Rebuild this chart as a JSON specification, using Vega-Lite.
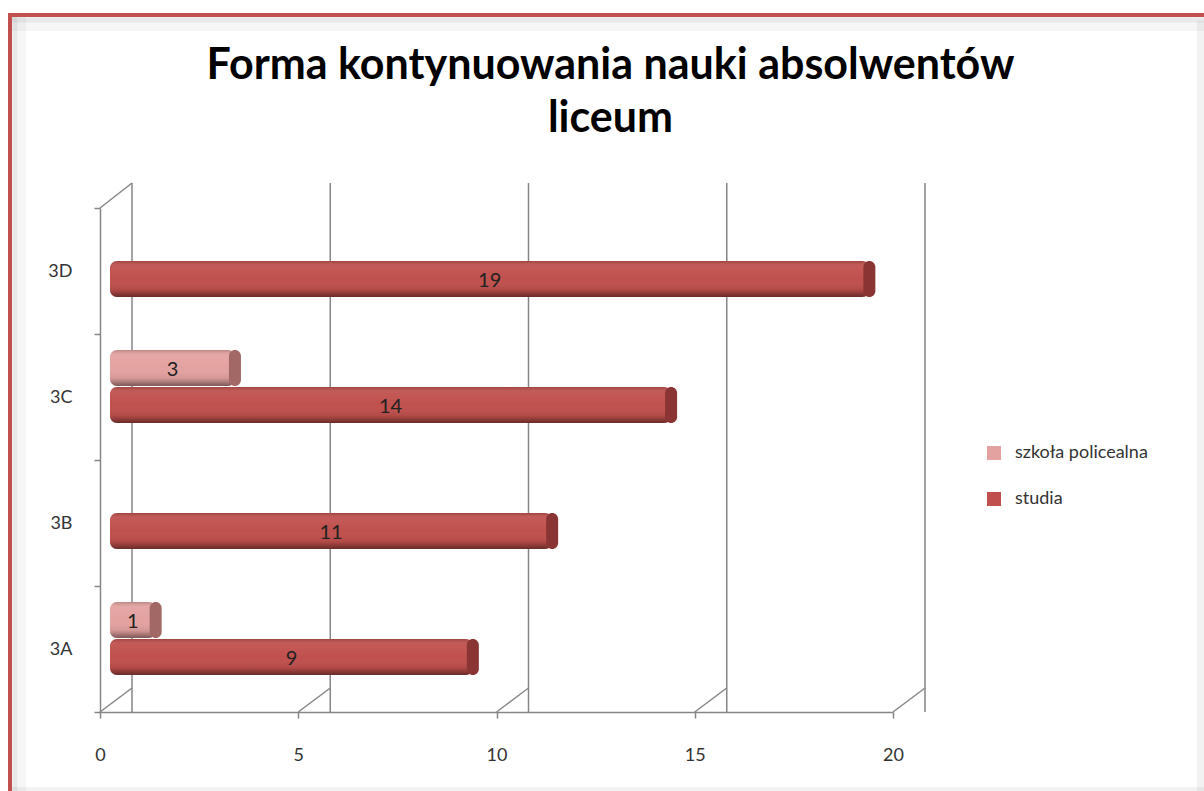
{
  "$schema": "https://vega.github.io/schema/vega-lite/v6.json",
  "width": 793,
  "height": 504,
  "autosize": "none",
  "padding": {"left": 100, "top": 208, "right": 311, "bottom": 79},
  "background": "white",
  "title": {
    "text": ["Forma kontynuowania nauki absolwentów", "liceum"],
    "font": "Lato",
    "fontSize": 43,
    "fontWeight": "bold",
    "color": "#000000",
    "lineHeight": 53,
    "anchor": "middle",
    "dx": 114,
    "offset": -133
  },
  "config": {
    "view": {"stroke": null},
    "font": "Lato",
    "axis": {
      "domainColor": "#868686",
      "domainWidth": 1.5,
      "tickColor": "#868686",
      "tickWidth": 1.5,
      "tickSize": 6,
      "labelFont": "Lato",
      "labelFontSize": 18,
      "labelColor": "#333333",
      "labelFlush": false,
      "grid": false,
      "title": null
    }
  },
  "data": {
    "values": [
      {"klasa": "3A", "seria": "szkoła policealna", "wartosc": 1},
      {"klasa": "3A", "seria": "studia", "wartosc": 9},
      {"klasa": "3B", "seria": "studia", "wartosc": 11},
      {"klasa": "3C", "seria": "szkoła policealna", "wartosc": 3},
      {"klasa": "3C", "seria": "studia", "wartosc": 14},
      {"klasa": "3D", "seria": "studia", "wartosc": 19}
    ]
  },
  "layer": [
    {
      "data": {"values": [{}]},
      "mark": {"type": "rule", "color": "#000000", "opacity": 0.035, "strokeWidth": 14, "xOffset": -81, "yOffset": -256, "y2Offset": 150},
      "encoding": {"x": {"datum": 0, "type": "quantitative"}, "y": {"datum": "3D", "type": "nominal"}, "y2": {"datum": "3A"}}
    },
    {
      "data": {"values": [{}]},
      "mark": {"type": "rule", "color": "#000000", "opacity": 0.05, "strokeWidth": 5, "xOffset": -85, "yOffset": -256, "y2Offset": 150},
      "encoding": {"x": {"datum": 0, "type": "quantitative"}, "y": {"datum": "3D", "type": "nominal"}, "y2": {"datum": "3A"}}
    },
    {
      "data": {"values": [{}]},
      "mark": {"type": "rule", "color": "#000000", "opacity": 0.035, "strokeWidth": 14, "xOffset": -88, "x2Offset": 400, "yOffset": -247},
      "encoding": {"x": {"datum": 0, "type": "quantitative"}, "x2": {"datum": 20}, "y": {"datum": "3D", "type": "nominal"}}
    },
    {
      "data": {"values": [{}]},
      "mark": {"type": "rule", "color": "#000000", "opacity": 0.05, "strokeWidth": 5, "xOffset": -88, "x2Offset": 400, "yOffset": -251},
      "encoding": {"x": {"datum": 0, "type": "quantitative"}, "x2": {"datum": 20}, "y": {"datum": "3D", "type": "nominal"}}
    },
    {
      "data": {"values": [{}]},
      "mark": {"type": "rule", "color": "#000000", "opacity": 0.05, "strokeWidth": 8, "xOffset": 308, "yOffset": -250, "y2Offset": 150},
      "encoding": {"x": {"datum": 20, "type": "quantitative"}, "y": {"datum": "3D", "type": "nominal"}, "y2": {"datum": "3A"}}
    },
    {
      "data": {"values": [{}]},
      "mark": {"type": "rule", "color": "#000000", "opacity": 0.05, "strokeWidth": 8, "xOffset": -88, "x2Offset": 400, "yOffset": 142},
      "encoding": {"x": {"datum": 0, "type": "quantitative"}, "x2": {"datum": 20}, "y": {"datum": "3A", "type": "nominal"}}
    },
    {
      "data": {"values": [{}]},
      "mark": {"type": "rule", "color": "#c0504d", "strokeWidth": 4, "xOffset": -90, "yOffset": -258, "y2Offset": 150},
      "encoding": {"x": {"datum": 0, "type": "quantitative"}, "y": {"datum": "3D", "type": "nominal"}, "y2": {"datum": "3A"}}
    },
    {
      "data": {"values": [{}]},
      "mark": {"type": "rule", "color": "#c0504d", "strokeWidth": 4, "xOffset": -92, "x2Offset": 400, "yOffset": -256},
      "encoding": {"x": {"datum": 0, "type": "quantitative"}, "x2": {"datum": 20}, "y": {"datum": "3D", "type": "nominal"}}
    },
    {
      "data": {"values": [{"v": 0}, {"v": 5}, {"v": 10}, {"v": 15}, {"v": 20}]},
      "mark": {"type": "rule", "color": "#868686", "strokeWidth": 1.5, "xOffset": 32, "yOffset": -25, "y2Offset": -24},
      "encoding": {"x": {"field": "v", "type": "quantitative"}}
    },
    {
      "data": {"values": [{"v": 0}, {"v": 5}, {"v": 10}, {"v": 15}, {"v": 20}]},
      "mark": {"type": "rule", "color": "#868686", "strokeWidth": 1.5, "x2Offset": 32, "yOffset": 63, "y2Offset": 39},
      "encoding": {
        "x": {"field": "v", "type": "quantitative"},
        "x2": {"field": "v"},
        "y": {"datum": "3A", "type": "nominal"},
        "y2": {"datum": "3A"}
      }
    },
    {
      "data": {"values": [{}]},
      "mark": {"type": "rule", "color": "#868686", "strokeWidth": 1.5, "x2Offset": 32, "yOffset": -63, "y2Offset": -88},
      "encoding": {
        "x": {"datum": 0, "type": "quantitative"},
        "x2": {"datum": 0},
        "y": {"datum": "3D", "type": "nominal"},
        "y2": {"datum": "3D"}
      }
    },
    {
      "mark": {"type": "bar", "orient": "horizontal", "cornerRadius": 7, "xOffset": 16, "x2Offset": 10},
      "encoding": {
        "y": {
          "field": "klasa", "type": "nominal", "sort": ["3D", "3C", "3B", "3A"],
          "scale": {"paddingInner": 0, "paddingOuter": 0},
          "axis": {"tickBand": "extent", "labelPadding": 22}
        },
        "yOffset": {
          "field": "seria", "type": "nominal", "sort": ["szkoła policealna", "studia"],
          "scale": {"paddingInner": 0.027, "paddingOuter": 0.716, "align": 0.3}
        },
        "x": {
          "field": "wartosc", "type": "quantitative",
          "scale": {"domain": [0, 20], "nice": false},
          "axis": {"values": [0, 5, 10, 15, 20], "labelPadding": 28}
        },
        "x2": {"datum": 0},
        "color": {
          "field": "seria", "type": "nominal", "sort": ["szkoła policealna", "studia"],
          "scale": {"range": ["#e3a2a0", "#c0504d"]},
          "legend": {
            "orient": "none", "legendX": 885, "legendY": 236, "title": null,
            "symbolType": "square", "symbolSize": 196, "symbolStrokeWidth": 0,
            "labelFont": "Lato", "labelFontSize": 18, "labelColor": "#333333",
            "rowPadding": 28, "labelOffset": 12
          }
        }
      }
    },
    {
      "mark": {
        "type": "bar", "orient": "horizontal", "cornerRadius": 7, "xOffset": 16, "x2Offset": 10,
        "fill": {
          "gradient": "linear", "x1": 0, "y1": 0, "x2": 0, "y2": 1,
          "stops": [
            {"offset": 0, "color": "rgba(0,0,0,0.18)"},
            {"offset": 0.15, "color": "rgba(255,255,255,0.06)"},
            {"offset": 0.5, "color": "rgba(255,255,255,0.0)"},
            {"offset": 0.8, "color": "rgba(0,0,0,0.08)"},
            {"offset": 1, "color": "rgba(0,0,0,0.45)"}
          ]
        }
      },
      "encoding": {
        "y": {"field": "klasa", "type": "nominal", "sort": ["3D", "3C", "3B", "3A"]},
        "yOffset": {"field": "seria", "type": "nominal", "sort": ["szkoła policealna", "studia"]},
        "x": {"field": "wartosc", "type": "quantitative"},
        "x2": {"datum": 0}
      }
    },
    {
      "mark": {"type": "bar", "orient": "horizontal", "cornerRadius": 6, "xOffset": 22, "x2Offset": 10},
      "encoding": {
        "y": {"field": "klasa", "type": "nominal", "sort": ["3D", "3C", "3B", "3A"]},
        "yOffset": {"field": "seria", "type": "nominal", "sort": ["szkoła policealna", "studia"]},
        "x": {"field": "wartosc", "type": "quantitative"},
        "x2": {"field": "wartosc"},
        "fill": {
          "field": "seria", "type": "nominal", "sort": ["szkoła policealna", "studia"],
          "scale": {"range": ["#a26866", "#8a3533"]},
          "legend": null
        }
      }
    },
    {
      "mark": {"type": "text", "font": "Lato", "fontSize": 20, "color": "#222222", "baseline": "middle", "xOffset": 13, "dy": 2},
      "encoding": {
        "y": {"field": "klasa", "type": "nominal", "sort": ["3D", "3C", "3B", "3A"]},
        "yOffset": {"field": "seria", "type": "nominal", "sort": ["szkoła policealna", "studia"]},
        "x": {"field": "wartosc", "type": "quantitative", "stack": "zero", "bandPosition": 0.5},
        "text": {"field": "wartosc", "type": "quantitative"}
      }
    }
  ]
}
